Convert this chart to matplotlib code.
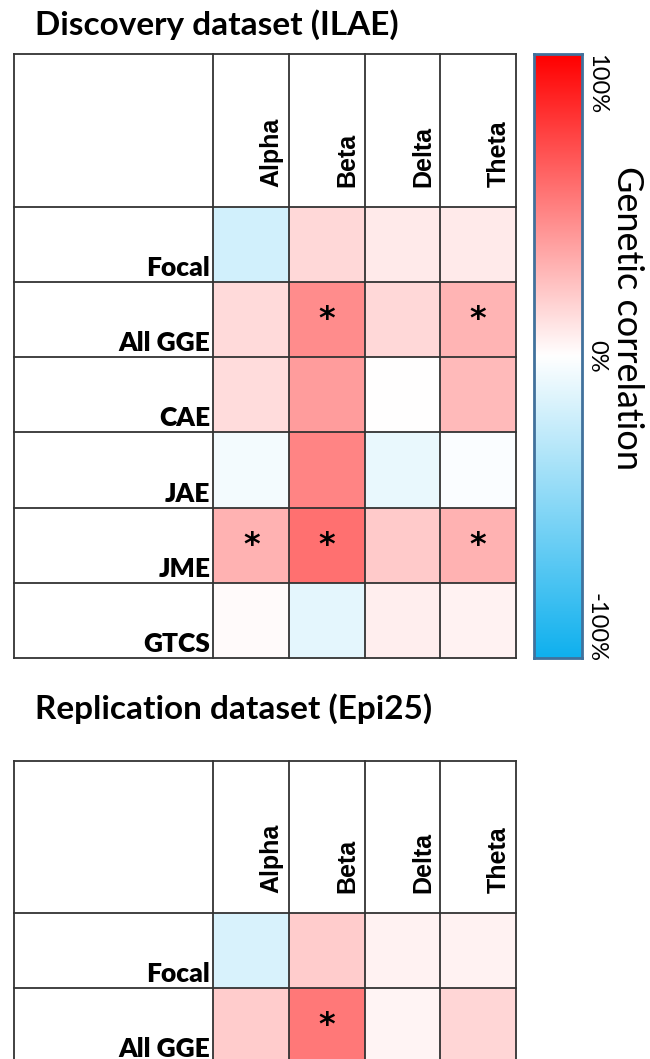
import numpy as np
import matplotlib
matplotlib.use('Agg')
import matplotlib.pyplot as plt
from matplotlib.colors import LinearSegmentedColormap

W, H = 650, 1059

bands = ['Alpha', 'Beta', 'Delta', 'Theta']

disc_rows = ['Focal', 'All GGE', 'CAE', 'JAE', 'JME', 'GTCS']
disc_vals = [
    [-0.19, 0.15, 0.085, 0.085],
    [0.145, 0.45, 0.15, 0.29],
    [0.14, 0.39, 0.0, 0.27],
    [-0.05, 0.48, -0.09, -0.02],
    [0.30, 0.56, 0.21, 0.30],
    [0.02, -0.11, 0.07, 0.05],
]
disc_sig = [
    [0, 0, 0, 0],
    [0, 1, 0, 1],
    [0, 0, 0, 0],
    [0, 0, 0, 0],
    [1, 1, 0, 1],
    [0, 0, 0, 0],
]

rep_rows = ['Focal', 'All GGE']
rep_vals = [
    [-0.16, 0.20, 0.05, 0.05],
    [0.20, 0.53, 0.04, 0.16],
]
rep_sig = [
    [0, 0, 0, 0],
    [0, 1, 0, 0],
]

cmap = LinearSegmentedColormap.from_list('rg', ['#0FB0EE', '#FFFFFF', '#FF0000'])
line_col = '#333333'


def px_axes(fig, left, top, right, bottom):
    return fig.add_axes([left / W, 1 - bottom / H, (right - left) / W, (bottom - top) / H])


def draw_table(ax, rows, vals, sig, lab_w, head_h, nrows_shown):
    vals = np.array(vals)
    n = len(rows)
    ax.pcolormesh(np.arange(len(bands) + 1), np.arange(n + 1), vals,
                  cmap=cmap, vmin=-1, vmax=1)
    ax.set_xlim(-lab_w, len(bands))
    ax.set_ylim(nrows_shown, -head_h)
    ax.axis('off')
    # grid lines
    for xv in [-lab_w] + list(range(len(bands) + 1)):
        ax.plot([xv, xv], [-head_h, n], color=line_col, lw=1.3, clip_on=False)
    for yv in [-head_h] + list(range(n + 1)):
        ax.plot([-lab_w, len(bands)], [yv, yv], color=line_col, lw=1.3, clip_on=False)
    for j, b in enumerate(bands):
        ax.text(j + 0.77, -0.27, b, rotation=90, ha='center', va='bottom',
                fontsize=18, fontweight='bold', family='Liberation Sans')
    for i, r in enumerate(rows):
        ax.text(-0.04, i + 0.92, r, ha='right', va='baseline',
                fontsize=19, fontweight='heavy', family='Lato')
        for j in range(len(bands)):
            if sig[i][j]:
                ax.text(j + 0.5, i + 0.5, '*', ha='center', va='center',
                        fontsize=23, fontweight='bold', family='DejaVu Sans')


fig = plt.figure(figsize=(W / 100, H / 100), dpi=100)

fig.text(35 / W, 1 - 35 / H, 'Discovery dataset (ILAE)', fontsize=24,
         fontweight='bold', family='Lato', ha='left', va='baseline')
ax1 = px_axes(fig, 14, 54, 516, 658)
draw_table(ax1, disc_rows, disc_vals, disc_sig, 199 / 75.5, 153 / 75.2, len(disc_rows))

fig.text(35 / W, 1 - 719 / H, 'Replication dataset (Epi25)', fontsize=24,
         fontweight='bold', family='Lato', ha='left', va='baseline')
ax2 = px_axes(fig, 14, 761, 516, 1063)
draw_table(ax2, rep_rows, rep_vals, rep_sig, 199 / 75.5, 152 / 75.0, len(rep_rows))

# colour bar
cax = px_axes(fig, 534, 54, 582, 658)
grad = np.linspace(1, -1, 256).reshape(-1, 1)
cax.imshow(grad, cmap=cmap, vmin=-1, vmax=1, aspect='auto', extent=[0, 1, -1, 1])
cax.set_xticks([])
cax.set_yticks([])
for s in cax.spines.values():
    s.set_color('#41719C')
    s.set_linewidth(2)

ticks = [1, 0, -1]
tick_labels = ['100%', '0%', '-100%']
for t, lab in zip(ticks, tick_labels):
    yv = t * 0.9
    cax.text(1.3, yv, lab, rotation=-90, ha='center', va='center',
             fontsize=17, family='Lato', clip_on=False)
cax.text(1.95, 0.126, 'Genetic correlation', rotation=-90, ha='center', va='center',
         fontsize=26, family='Lato', clip_on=False)

fig.savefig('out.png', dpi=100)
